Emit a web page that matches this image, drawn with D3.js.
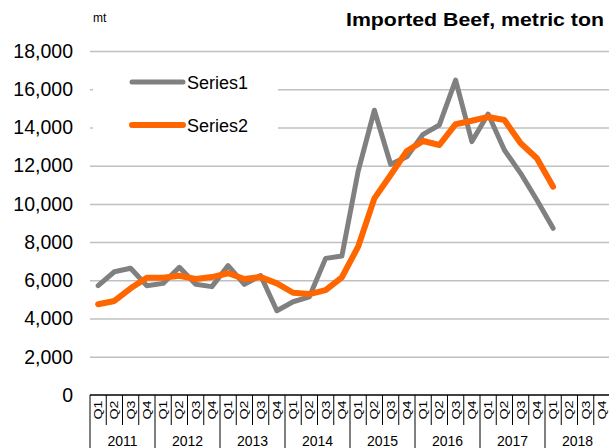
<!DOCTYPE html>
<html>
<head>
<meta charset="utf-8">
<script src="https://cdn.jsdelivr.net/npm/d3@7"></script>
<style>
  html, body { margin: 0; padding: 0; background: #fff; }
  svg { display: block; font-family: "Liberation Sans", Arial, sans-serif; }
</style>
</head>
<body>
<svg id="chart" width="609" height="448"></svg>
<script>
// Quarterly imports of beef (metric tons)
const years = ["2011", "2012", "2013", "2014", "2015", "2016", "2017", "2018"];
const quarters = ["Q1", "Q2", "Q3", "Q4"];
const series1 = [5720, 6450, 6630, 5720, 5840, 6680, 5790, 5670, 6770, 5790, 6250, 4410,
                 4880, 5140, 7150, 7270, 11700, 14900, 12070, 12470, 13640, 14130, 16480, 13260,
                 14700, 12820, 11600, 10200, 8720];
const series2 = [4750, 4920, 5580, 6140, 6140, 6240, 6070, 6170, 6370, 6070, 6170, 5840,
                 5350, 5280, 5490, 6160, 7760, 10290, 11510, 12770, 13290, 13080, 14170, 14350,
                 14550, 14390, 13170, 12390, 10900];
const yTicks = [0, 2000, 4000, 6000, 8000, 10000, 12000, 14000, 16000, 18000];
const seriesNames = ["Series1", "Series2"];
const seriesColors = ["#808080", "#FF6600"];

const periods = [];
years.forEach(yr => quarters.forEach(q => periods.push({ key: yr + "-" + q, year: yr, q })));

const svg = d3.select("#chart");
const plotLeft = 90, plotRight = 610, plotTop = 51, plotBottom = 395;

const x = d3.scaleBand().domain(periods.map(d => d.key)).range([plotLeft, plotRight]).padding(0);
const y = d3.scaleLinear().domain([0, 18000]).range([plotBottom, plotTop]);

// horizontal gridlines
svg.append("g")
  .attr("transform", `translate(${plotLeft},0)`)
  .call(d3.axisLeft(y).tickValues(yTicks.filter(v => v > 0)).tickSize(-(plotRight - plotLeft)).tickFormat(""))
  .call(g => g.select(".domain").remove())
  .call(g => g.selectAll("line").attr("stroke", "#c0c0c0").attr("stroke-width", 1.5));

// y tick labels
svg.append("g")
  .attr("transform", `translate(${plotLeft},0)`)
  .call(d3.axisLeft(y).tickValues(yTicks).tickSize(0).tickPadding(17).tickFormat(d3.format(",")))
  .call(g => g.select(".domain").remove())
  .call(g => g.selectAll("text")
    .attr("font-size", 19.5).attr("fill", "#000")
    .attr("font-family", "'Liberation Sans', Arial, sans-serif"));

// legend box (white background hides gridlines behind it)
const legend = svg.append("g");
legend.append("rect").attr("x", 93).attr("y", 58).attr("width", 185).attr("height", 94).attr("fill", "#fff");
seriesNames.forEach((name, i) => {
  const ly = 82 + i * 43;
  legend.append("line")
    .attr("x1", 132).attr("x2", 183).attr("y1", ly).attr("y2", ly)
    .attr("stroke", seriesColors[i]).attr("stroke-width", i === 0 ? 5 : 6)
    .attr("stroke-linecap", "round");
  legend.append("text")
    .attr("x", 187).attr("y", ly + 6.5)
    .attr("font-size", 18).attr("fill", "#000")
    .text(name);
});

// x axis: two-level category box
const xAxis = svg.append("g");
xAxis.append("line")
  .attr("x1", plotLeft).attr("x2", plotRight).attr("y1", plotBottom).attr("y2", plotBottom)
  .attr("stroke", "#000").attr("stroke-width", 1.5);
periods.forEach((p, i) => {
  const bx = x(p.key);
  const yearEdge = i % 4 === 0;
  xAxis.append("line")
    .attr("x1", bx).attr("x2", bx).attr("y1", plotBottom).attr("y2", yearEdge ? 448 : 425)
    .attr("stroke", "#000").attr("stroke-width", 1);
  const cx = bx + x.bandwidth() / 2;
  xAxis.append("text")
    .attr("transform", `translate(${cx + 4},410) rotate(-90)`)
    .attr("text-anchor", "middle")
    .attr("font-size", 11)
    .attr("textLength", 19).attr("lengthAdjust", "spacingAndGlyphs")
    .text(p.q);
});
xAxis.append("line")
  .attr("x1", plotRight - 0.5).attr("x2", plotRight - 0.5).attr("y1", plotBottom).attr("y2", 448)
  .attr("stroke", "#000").attr("stroke-width", 1);
years.forEach(yr => {
  const x0 = x(yr + "-Q1"), x1 = x(yr + "-Q4") + x.bandwidth();
  xAxis.append("text")
    .attr("x", (x0 + x1) / 2).attr("y", 446)
    .attr("text-anchor", "middle")
    .attr("font-size", 14)
    .text(yr);
});

// data lines
const line = d3.line()
  .x((d, i) => x(periods[i].key) + x.bandwidth() / 2)
  .y(d => y(d));
[series1, series2].forEach((s, i) => {
  svg.append("path")
    .datum(s)
    .attr("d", line)
    .attr("fill", "none")
    .attr("stroke", seriesColors[i])
    .attr("stroke-width", i === 0 ? 5 : 6)
    .attr("stroke-linejoin", "round")
    .attr("stroke-linecap", "round");
});

// titles
svg.append("text")
  .attr("x", 93).attr("y", 22)
  .attr("font-size", 12)
  .text("mt");
svg.append("text")
  .attr("x", 604).attr("y", 26)
  .attr("text-anchor", "end")
  .attr("font-size", 19).attr("font-weight", "bold")
  .attr("textLength", 258).attr("lengthAdjust", "spacingAndGlyphs")
  .text("Imported Beef, metric ton");
</script>
</body>
</html>
